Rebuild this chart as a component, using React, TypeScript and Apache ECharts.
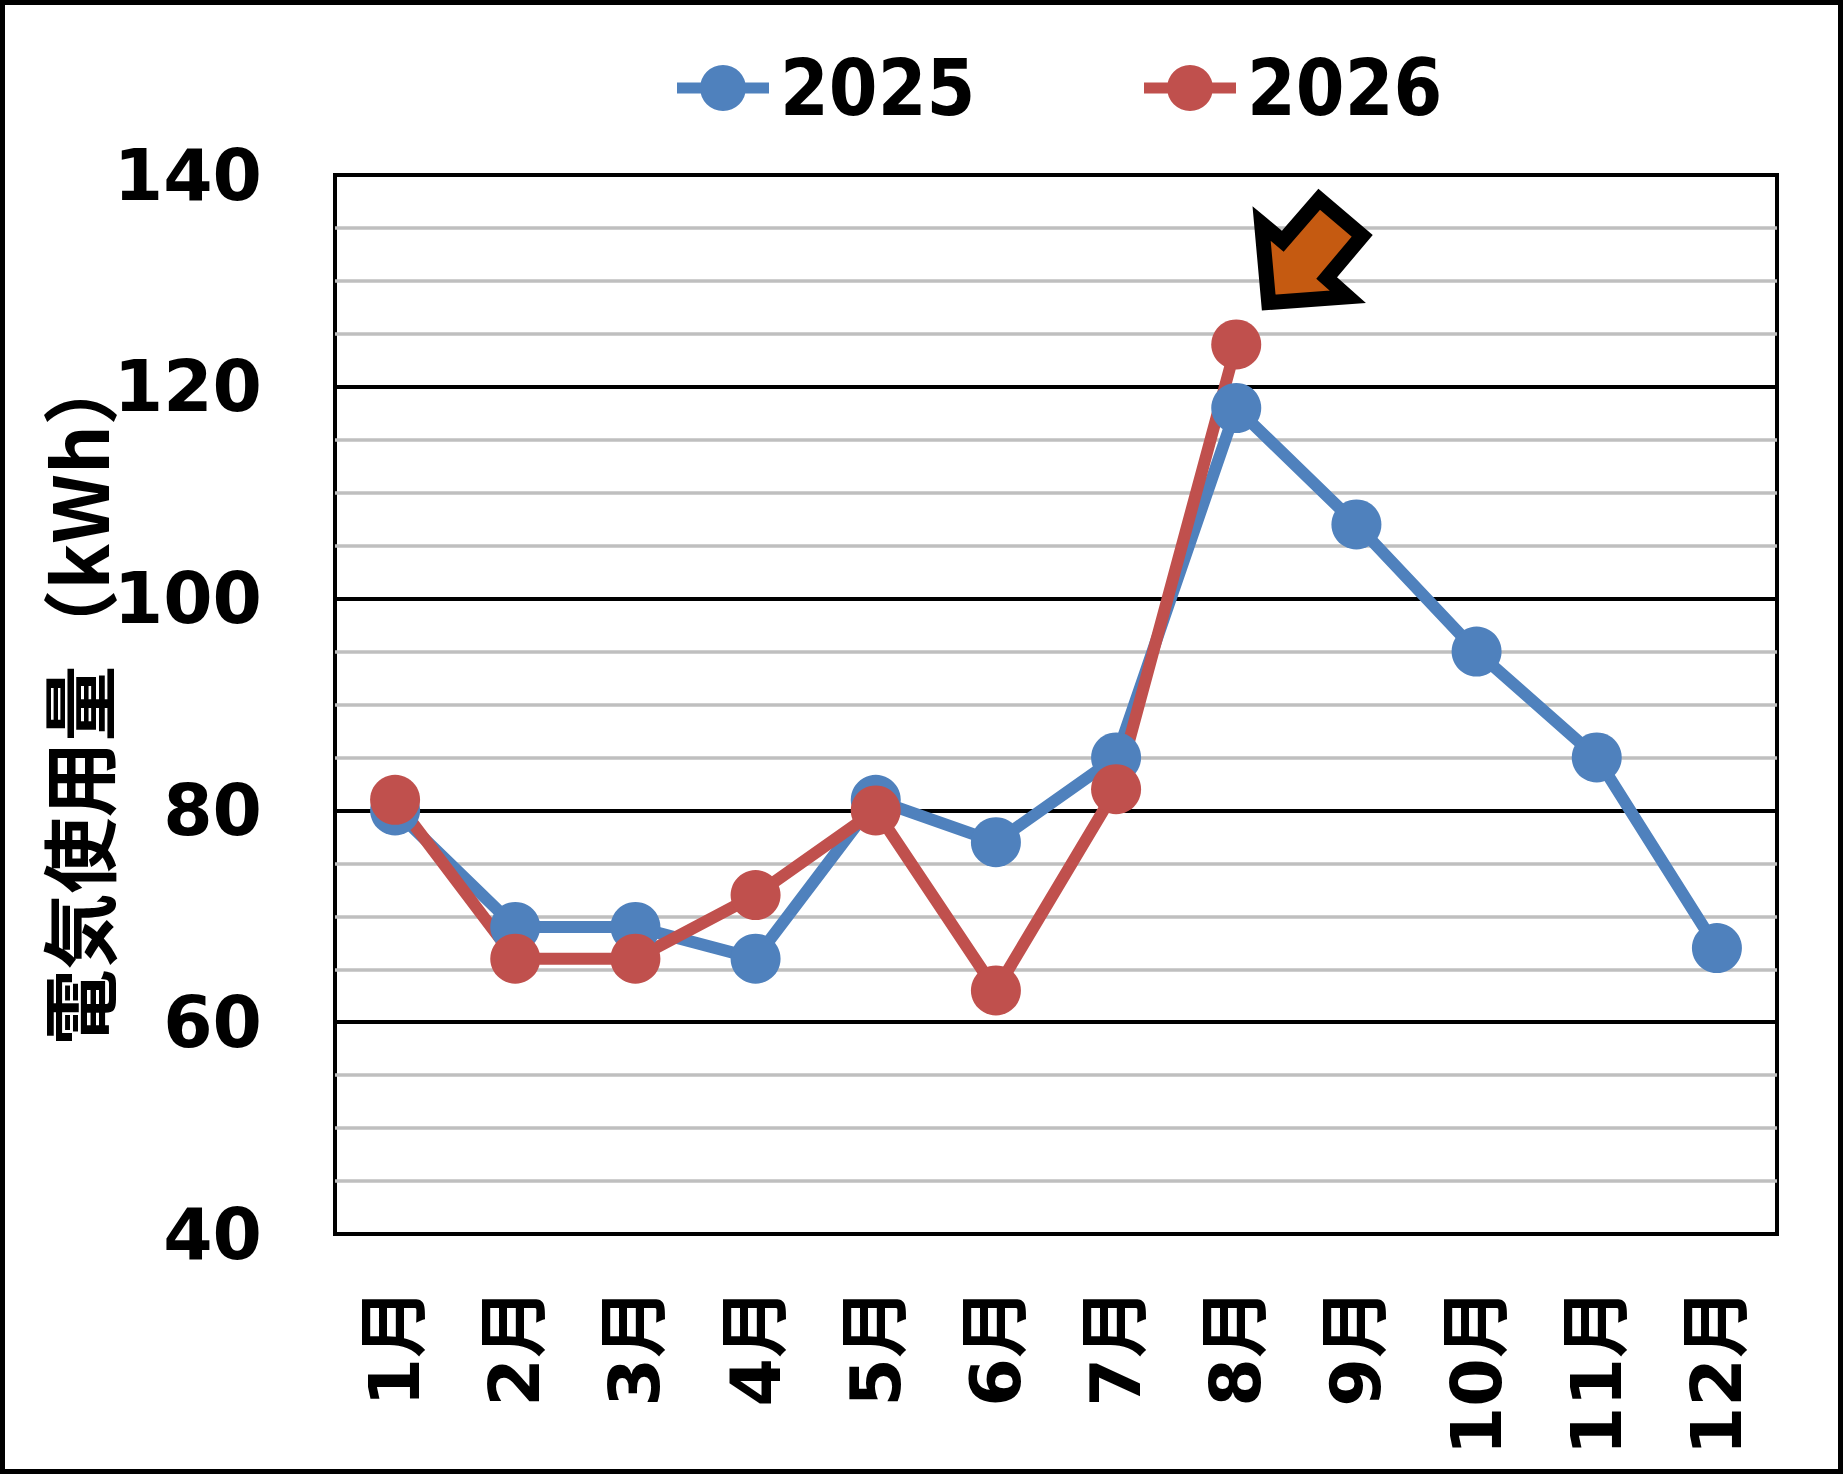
import React, { useEffect, useRef } from "react";
import * as echarts from "echarts";

const months = ["1月", "2月", "3月", "4月", "5月", "6月", "7月", "8月", "9月", "10月", "11月", "12月"];
const series2025 = [80, 69, 69, 66, 81, 77, 85, 118, 107, 95, 85, 67];
const series2026: (number | null)[] = [81, 66, 66, 72, 80, 63, 82, 124, null, null, null, null];
const seriesNames = ["2025", "2026"];
const yMin = 40;
const yMax = 140;
const yStep = 20;
const yTitle = "電気使用量（kWh）";

const BLUE = "#4F81BD";
const RED = "#C0504D";

const legendIcon =
  "path://M0,17.5 L24,17.5 L24,28.5 L0,28.5 Z M23,23 A23,23 0 1 1 69,23 A23,23 0 1 1 23,23 Z M68,17.5 L92,17.5 L92,28.5 L68,28.5 Z";

export default function App() {
  const ref = useRef<HTMLDivElement>(null);
  useEffect(() => {
    document.body.style.margin = "0";
    if (!ref.current) return;
    const chart = echarts.init(ref.current, undefined, { renderer: "svg" });
    const labelFont = "'DejaVu Sans', 'Noto Sans CJK JP', sans-serif";
    const legendText = {
      fontSize: 78,
      fontWeight: "bold" as const,
      fontFamily: "'DejaVu Sans Condensed', 'DejaVu Sans', sans-serif",
      color: "#000",
      padding: [0, 0, 0, 6],
    };
    const legendBase = {
      top: 44,
      itemWidth: 92,
      itemHeight: 46,
      textStyle: legendText,
      selectedMode: false,
    };
    chart.setOption({
      animation: false,
      backgroundColor: "#fff",
      legend: [
        { ...legendBase, data: [{ name: seriesNames[0], icon: legendIcon }], left: 672 },
        { ...legendBase, data: [{ name: seriesNames[1], icon: legendIcon }], left: 1139 },
      ],
      grid: {
        left: 335,
        top: 175,
        right: 66,
        bottom: 240,
        show: true,
        borderColor: "#000",
        borderWidth: 4,
        backgroundColor: "transparent",
      },
      xAxis: {
        type: "category",
        data: months,
        boundaryGap: true,
        axisLine: { show: true, lineStyle: { color: "#000", width: 4 } },
        axisTick: { show: false },
        axisLabel: {
          rotate: 90,
          margin: 54,
          fontSize: 70,
          fontWeight: "bold",
          fontFamily: labelFont,
          color: "#000",
          interval: 0,
        },
      },
      yAxis: {
        type: "value",
        min: yMin,
        max: yMax,
        interval: yStep,
        name: yTitle,
        nameLocation: "middle",
        nameRotate: 90,
        nameGap: 221,
        nameMoveOverlap: false,
        nameTextStyle: {
          fontSize: 76,
          fontWeight: "bold",
          fontFamily: "'Noto Sans CJK JP', sans-serif",
          color: "#000",
          padding: [0, 0, 0, 14],
        },
        axisLine: { show: false },
        axisTick: { show: false },
        axisLabel: {
          margin: 73,
          fontSize: 71,
          fontWeight: "bold",
          fontFamily: labelFont,
          color: "#000",
        },
        splitLine: { show: true, lineStyle: { color: "#000", width: 4 } },
        minorTick: { show: false, splitNumber: 4 },
        minorSplitLine: { show: true, lineStyle: { color: "#BFBFBF", width: 3.5 } },
      },
      series: [
        {
          name: seriesNames[0],
          type: "line",
          data: series2025,
          symbol: "circle",
          symbolSize: 50,
          lineStyle: { color: BLUE, width: 12 },
          itemStyle: { color: BLUE },
          emphasis: { disabled: true },
        },
        {
          name: seriesNames[1],
          type: "line",
          data: series2026,
          symbol: "circle",
          symbolSize: 50,
          lineStyle: { color: RED, width: 12 },
          itemStyle: { color: RED },
          emphasis: { disabled: true },
        },
      ],
      graphic: [
        {
          type: "polygon",
          z: 100,
          shape: {
            points: [
              [1261.6, 223.5],
              [1282.8, 241.2],
              [1319.2, 199.3],
              [1362.2, 235.8],
              [1326.7, 278],
              [1347.7, 296.7],
              [1268.7, 302.5],
            ],
          },
          style: { fill: "#C55A11", stroke: "#000", lineWidth: 15, lineJoin: "miter", miterLimit: 10 },
        },
        {
          type: "rect",
          z: 100,
          shape: { x: 2.5, y: 2.5, width: 1838, height: 1469 },
          style: { fill: "none", stroke: "#000", lineWidth: 5 },
        },
      ],
    });
    return () => chart.dispose();
  }, []);
  return <div ref={ref} style={{ width: 1843, height: 1474, position: "absolute", left: 0, top: 0 }} />;
}
